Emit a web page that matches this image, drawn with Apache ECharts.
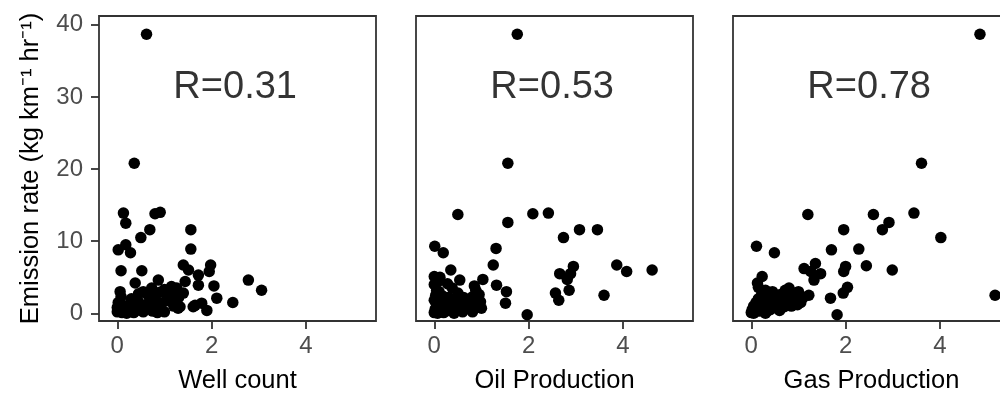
<!DOCTYPE html>
<html>
<head>
<meta charset="utf-8">
<script src="https://cdn.jsdelivr.net/npm/echarts@6/dist/echarts.min.js"></script>
<style>
html,body{margin:0;padding:0;background:#fff;}
#chart{width:1000px;height:393px;}
</style>
</head>
<body>
<div id="chart"></div>
<script>
// ---- data ----
var panelTitles = ['Well count', 'Oil Production', 'Gas Production'];
var rLabels = ['R=0.31', 'R=0.53', 'R=0.78'];
var rLabelPos = [2.5, 31.3];
var yTicks = [0, 10, 20, 30, 40];
var xTicks = [0, 2, 4];

var wellPts = [
  [0.62,38.7],[0.36,20.8],[0.13,13.9],[0.18,12.5],[0.80,13.8],[0.91,14.0],[0.69,11.6],[0.50,10.5],
  [1.56,11.6],[0.18,9.5],[0.02,8.8],[0.28,8.4],[1.56,8.9],[0.08,5.9],[0.52,5.9],[1.40,6.7],
  [1.51,6.0],[1.98,6.7],[1.95,5.8],[1.72,5.3],[2.78,4.6],[3.06,3.2],[0.38,4.2],[0.87,4.6],
  [1.44,4.4],[1.72,3.9],[2.05,3.8],[0.06,3.0],[1.15,3.7],[0.73,3.5],[2.11,2.1],[2.45,1.5],
  [1.29,0.7],[1.61,0.9],[1.79,1.4],[1.90,0.4],[1.40,2.8],[1.26,3.5],[1.65,1.1],[1.33,0.9],
  [0.0,0.2],[0.05,0.5],[0.1,0.1],[0.15,0.8],[0.2,0.3],[0.25,1.2],[0.3,0.5],[0.35,0.1],
  [0.4,0.9],[0.45,1.6],[0.5,0.4],[0.55,0.2],[0.6,1.1],[0.65,0.6],[0.7,1.8],[0.75,0.3],
  [0.8,2.2],[0.85,1.0],[0.9,0.5],[0.95,1.4],[1.0,0.2],[1.05,2.5],[0.02,1.5],[0.08,2.3],
  [0.12,1.0],[0.3,2.0],[0.45,2.7],[0.55,3.0],[0.65,2.5],[0.72,0.9],[0.9,2.9],[1.1,1.7],
  [1.2,1.0],[1.3,2.2],[1.0,3.3],[0.2,0.0],[0.5,1.0],[0.85,0.1],[1.15,3.0],[0.0,0.8]
];

var oilPts = [
  [1.76,38.7],[1.56,20.8],[0.50,13.7],[1.56,12.6],[2.09,13.8],[2.42,13.9],[2.74,10.5],[3.08,11.6],
  [3.46,11.6],[0.01,9.3],[0.19,8.4],[1.31,9.0],[1.25,6.7],[0.35,6.0],[0.0,5.1],[0.54,4.6],
  [1.03,4.7],[1.32,3.9],[1.53,3.0],[1.51,1.4],[0.88,3.2],[0.81,2.3],[0.98,1.6],[0.81,0.2],
  [1.97,-0.2],[3.87,6.7],[4.08,5.8],[4.62,6.0],[3.60,2.5],[2.95,6.5],[2.89,5.5],[2.66,5.5],
  [2.82,4.7],[2.86,3.2],[2.57,2.8],[2.64,1.8],
  [0.0,0.1],[0.02,0.6],[0.05,1.2],[0.0,1.8],[0.03,2.5],[0.05,3.2],[0.0,4.0],[0.08,4.4],
  [0.1,0.3],[0.12,1.0],[0.15,1.7],[0.18,2.4],[0.1,3.0],[0.2,0.1],[0.22,0.8],[0.25,1.5],
  [0.3,0.4],[0.3,2.2],[0.35,1.1],[0.38,3.5],[0.4,0.2],[0.45,1.8],[0.5,0.6],[0.5,2.8],
  [0.55,1.3],[0.6,0.2],[0.62,2.2],[0.7,0.9],[0.75,1.6],[0.8,0.4],[0.85,3.8],[0.9,1.2],
  [0.95,2.6],[0.28,4.1],[0.12,5.0],[1.0,0.7],[0.42,0.0],[0.07,0.0]
];

var gasPts = [
  [4.85,38.7],[3.61,20.8],[1.20,13.7],[2.59,13.7],[3.45,13.9],[2.92,12.6],[2.78,11.6],[1.96,11.6],
  [4.02,10.5],[0.11,9.3],[0.49,8.4],[1.70,8.8],[2.28,8.9],[2.44,6.6],[2.99,6.0],[2.00,6.5],
  [1.96,5.8],[5.17,2.5],[2.04,3.6],[1.95,2.8],[1.68,2.1],[1.82,-0.2],[1.36,6.9],[1.47,5.5],
  [1.12,6.2],[1.26,5.8],[1.33,4.6],[1.22,2.5],[0.23,5.1],[0.13,4.2],[0.80,3.5],[0.94,2.8],
  [0.69,1.4],[0.98,1.2],
  [0.0,0.1],[0.02,0.5],[0.05,1.0],[0.08,0.2],[0.1,1.5],[0.12,0.7],[0.15,2.0],[0.18,0.3],
  [0.2,1.2],[0.22,2.6],[0.25,0.6],[0.28,1.8],[0.3,3.2],[0.32,0.2],[0.35,1.0],[0.38,2.2],
  [0.4,0.5],[0.42,1.5],[0.45,3.0],[0.5,0.8],[0.52,2.0],[0.55,1.3],[0.6,0.4],[0.62,2.6],
  [0.65,1.6],[0.7,0.9],[0.72,3.2],[0.78,2.0],[0.85,1.0],[0.9,2.4],[0.95,1.8],[1.0,3.0],
  [1.05,1.5],[1.1,2.2],[0.15,3.6],[0.05,0.0],[0.3,0.0]
];

var panelData = [wellPts, oilPts, gasPts];

// ---- layout ----
var FONT = 'Liberation Sans, Arial, sans-serif';
var gridLefts = [99, 416, 733];
var grids = [], xAxes = [], yAxes = [], series = [];
for (var i = 0; i < 3; i++) {
  grids.push({
    left: gridLefts[i], top: 16, width: 277, height: 305,
    outerBoundsMode: 'none', containLabel: false,
    show: true, borderColor: '#333333', borderWidth: 1.8, backgroundColor: '#ffffff'
  });
  xAxes.push({
    type: 'value', gridIndex: i, min: -0.388, max: 5.487, position: 'bottom',
    name: panelTitles[i], nameLocation: 'middle', nameGap: 47,
    nameTextStyle: { color: '#000000', fontSize: 25.5, fontFamily: FONT },
    splitLine: { show: false },
    axisLine: { show: false, onZero: false },
    axisTick: { show: true, length: 8, customValues: xTicks, lineStyle: { color: '#333333', width: 1.8 } },
    axisLabel: { show: true, customValues: xTicks, margin: 13, color: '#4D4D4D', fontSize: 24, fontFamily: FONT }
  });
  yAxes.push({
    type: 'value', gridIndex: i, min: -1.07, max: 41.23, position: 'left',
    name: i === 0 ? 'Emission rate (kg km\u207B\u00B9 hr\u207B\u00B9)' : '',
    nameLocation: 'middle', nameGap: 55,
    nameTextStyle: { color: '#000000', fontSize: 25.5, fontFamily: FONT },
    splitLine: { show: false },
    axisLine: { show: false, onZero: false },
    axisTick: { show: i === 0, length: 8, customValues: yTicks, lineStyle: { color: '#333333', width: 1.8 } },
    axisLabel: { show: i === 0, customValues: yTicks, margin: 16, color: '#4D4D4D', fontSize: 24, fontFamily: FONT }
  });
  series.push({
    type: 'scatter', xAxisIndex: i, yAxisIndex: i,
    data: panelData[i], symbol: 'circle', symbolSize: 11.5,
    itemStyle: { color: '#000000', opacity: 1 }, silent: true, clip: true
  });
  series.push({
    type: 'scatter', xAxisIndex: i, yAxisIndex: i,
    data: [rLabelPos], symbolSize: 0, silent: true,
    label: {
      show: true, position: 'inside', formatter: rLabels[i],
      color: '#000000', fontSize: 38, fontFamily: FONT
    }
  });
}

var chart = echarts.init(document.getElementById('chart'), null, { renderer: 'canvas' });
chart.setOption({
  animation: false,
  backgroundColor: '#ffffff',
  grid: grids, xAxis: xAxes, yAxis: yAxes, series: series
});
</script>
</body>
</html>
